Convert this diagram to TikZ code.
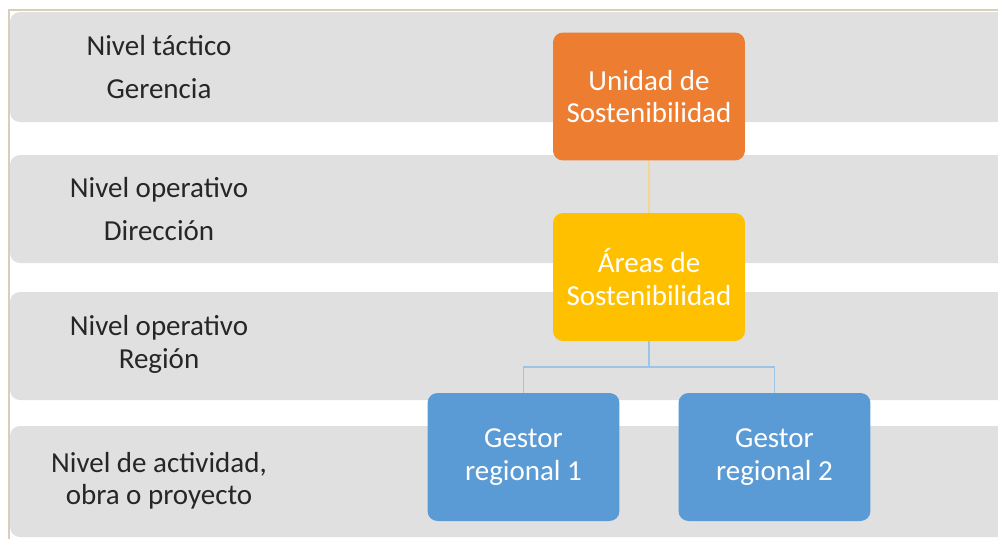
\documentclass[tikz,border=0pt]{standalone}
\usepackage{fontspec}
\setmainfont{Carlito}
\usepackage{tikz}

\definecolor{bandgray}{HTML}{E0E0E0}
\definecolor{framecol}{HTML}{D9CEBA}
\definecolor{orangebox}{HTML}{ED7D31}
\definecolor{yellowbox}{HTML}{FFC000}
\definecolor{bluebox}{HTML}{5B9BD5}
\definecolor{yellowline}{HTML}{F3D78C}
\definecolor{blueline}{HTML}{9DC3E6}
\definecolor{labeltext}{HTML}{262626}

\begin{document}
\begin{tikzpicture}[x=0.02cm,y=-0.02cm]

\tikzset{band/.style = {fill=bandgray, rounded corners=0.2cm}}
\tikzset{level/.style = {text=labeltext, align=center, font=\fontsize{16.5}{18.5}\selectfont}}
\tikzset{unit/.style = {shape=rectangle, rounded corners=0.2cm, minimum width=3.84cm,
  minimum height=2.56cm, text=white, align=center, inner sep=0pt,
  font=\fontsize{16.5}{18.5}\selectfont}}
\tikzset{link/.style = {line width=0.8pt}}

\clip (0,0) rectangle (998,539);
\fill[white] (0,0) rectangle (998,539);

% bands
\fill[band] (10,12) rectangle (1020,122);
\fill[band] (10,155) rectangle (1020,263);
\fill[band] (10,292) rectangle (1020,400);
\fill[band] (10,426) rectangle (1020,537);

% frame
\draw[framecol, line width=0.9pt] (9,539) -- (9,10) -- (998,10);

% labels
\node[level] (tactico) at (159,67) {Nivel táctico\\[6pt] Gerencia};
\node[level] (direccion) at (159,209.5) {Nivel operativo\\[6pt] Dirección};
\node[level] (region) at (159,344.5) {Nivel operativo\\ Región};
\node[level] (actividad) at (159,481) {Nivel de actividad,\\ obra o proyecto};

% boxes
\node[unit, fill=orangebox] (unidad) at (649,96.5) {Unidad de\\ Sostenibilidad};
\node[unit, fill=yellowbox] (areas) at (649,277) {Áreas de\\ Sostenibilidad};
\node[unit, fill=bluebox] (gestor1) at (523.5,457) {Gestor\\ regional 1};
\node[unit, fill=bluebox] (gestor2) at (774.5,457) {Gestor\\ regional 2};

% lines
\coordinate (split) at (649,367);
\draw[link, yellowline] (unidad) -- (areas);
\draw[link, blueline] (areas) -- (split) -| (gestor1);
\draw[link, blueline] (split) -| (gestor2);

\end{tikzpicture}
\end{document}
